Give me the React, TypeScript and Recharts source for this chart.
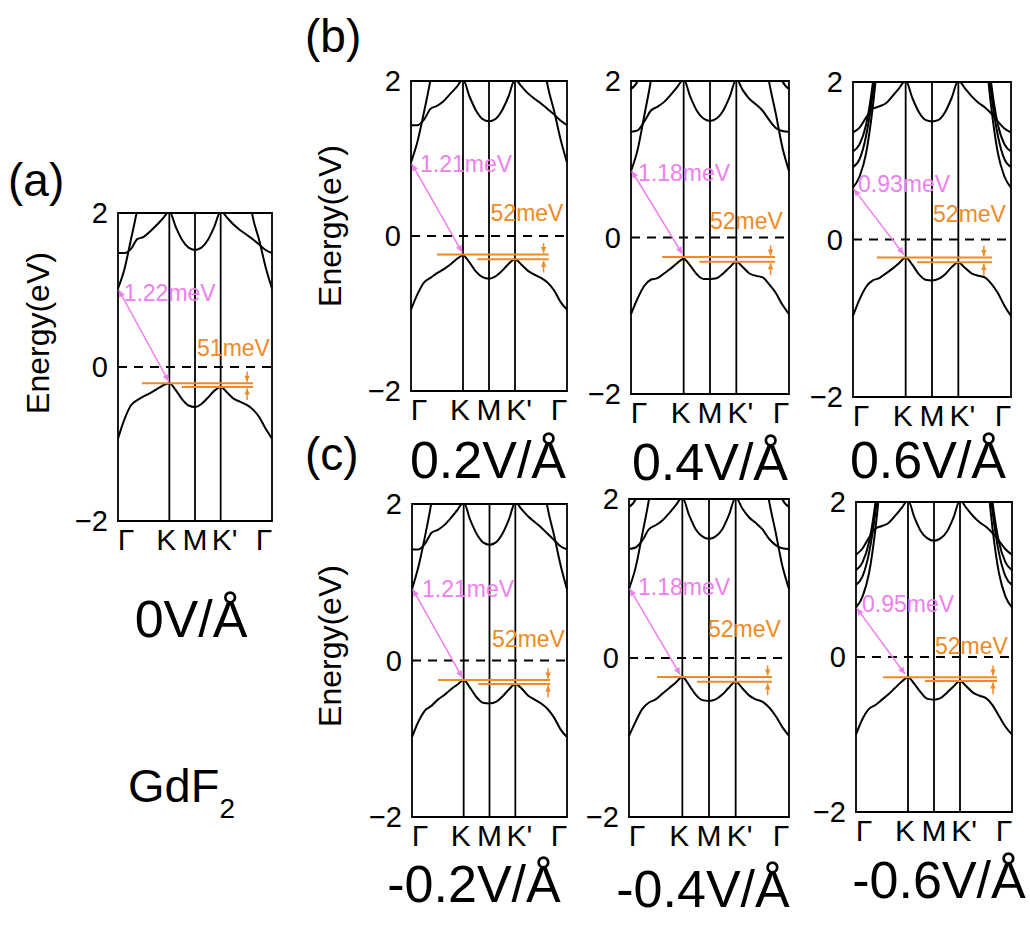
import React from 'react'
import { LineChart, Line, XAxis, YAxis, ReferenceLine, ReferenceArea, ReferenceDot } from 'recharts'

const FONT = '"Liberation Sans", Arial, sans-serif'
const PINK = '#EE80EE'
const ORANGE = '#F08A24'

// k-path Γ-K-M-K'-Γ, sampled every 0.25
const kPath = [0, 0.25, 0.5, 0.75, 1, 1.25, 1.5, 1.75, 2, 2.25, 2.5, 2.75, 3, 3.25, 3.5, 3.75, 4, 4.25, 4.5, 4.75, 5, 5.25, 5.5, 5.75, 6]
const kTicks = [0, 2, 3, 4, 6]
const kLabels = ['Γ', 'K', 'M', "K'", 'Γ']
const eTicks = [-2, 0, 2]

// steep bands only show near Γ, the middle of the path is empty
function edge(left: number[], right: number[]) {
  return [...left, ...new Array(kPath.length - left.length - right.length).fill(null), ...right]
}

// (a) 0 V/Å
const vbA = [-0.93, -0.68, -0.5, -0.43, -0.38, -0.34, -0.29, -0.24, -0.21, -0.3, -0.42, -0.5, -0.52, -0.48, -0.4, -0.31, -0.26, -0.33, -0.41, -0.45, -0.49, -0.55, -0.65, -0.8, -0.93]
const cKA = [1.48, 1.48, 1.53, 1.66, 1.69, 1.76, 1.84, 1.93, 2.02, 1.82, 1.65, 1.55, 1.52, 1.55, 1.65, 1.82, 2.02, 1.94, 1.85, 1.78, 1.72, 1.66, 1.59, 1.52, 1.48]
const cGA = edge([1.02, 1.27, 1.65, 2.05, 2.6], [2.5, 1.95, 1.65, 1.3, 1.02])

// (b) 0.2 V/Å
const vbB1 = [-0.95, -0.75, -0.6, -0.54, -0.48, -0.43, -0.37, -0.3, -0.25, -0.34, -0.46, -0.53, -0.55, -0.52, -0.45, -0.36, -0.3, -0.37, -0.45, -0.5, -0.54, -0.6, -0.7, -0.85, -0.95]
const cKB1 = [1.43, 1.43, 1.5, 1.64, 1.68, 1.74, 1.83, 1.92, 2.02, 1.8, 1.62, 1.51, 1.48, 1.51, 1.62, 1.8, 2.02, 1.93, 1.84, 1.77, 1.71, 1.64, 1.57, 1.49, 1.43]
const cGB1 = edge([0.95, 1.22, 1.6, 2.02, 2.6], [2.5, 1.95, 1.62, 1.25, 0.95])

// (b) 0.4 V/Å
const vbB2 = [-0.98, -0.78, -0.62, -0.54, -0.52, -0.46, -0.4, -0.33, -0.27, -0.36, -0.47, -0.53, -0.53, -0.52, -0.46, -0.38, -0.31, -0.38, -0.46, -0.49, -0.51, -0.6, -0.71, -0.86, -0.98]
const cKB2 = [1.35, 1.37, 1.48, 1.62, 1.67, 1.73, 1.82, 1.92, 2.02, 1.8, 1.62, 1.52, 1.49, 1.52, 1.62, 1.8, 2.02, 1.88, 1.77, 1.7, 1.62, 1.5, 1.4, 1.36, 1.35]
const cGB2 = edge([0.85, 1.12, 1.55, 2.0, 2.6], [2.5, 1.98, 1.58, 1.15, 0.85])
const cTB2 = edge([1.9, 2.0, 2.3], [2.3, 2.0, 1.9])

// (b) 0.6 V/Å
const vbB3 = [-0.97, -0.76, -0.6, -0.52, -0.49, -0.43, -0.37, -0.3, -0.23, -0.32, -0.44, -0.51, -0.52, -0.5, -0.44, -0.35, -0.29, -0.36, -0.43, -0.46, -0.48, -0.56, -0.68, -0.84, -0.97]
const cKB3 = [1.36, 1.42, 1.55, 1.66, 1.69, 1.73, 1.82, 1.92, 2.02, 1.8, 1.62, 1.52, 1.5, 1.52, 1.62, 1.8, 2.02, 1.92, 1.82, 1.74, 1.68, 1.6, 1.5, 1.41, 1.36]
const cS1B3 = edge([0.66, 0.8, 1.1, 1.68, 2.5], [2.5, 1.68, 1.1, 0.8, 0.66])
const cS2B3 = edge([0.92, 1.02, 1.32, 1.86, 2.7], [2.7, 1.86, 1.32, 1.02, 0.92])
const cS3B3 = edge([1.12, 1.21, 1.46, 1.98, 2.8], [2.8, 1.98, 1.46, 1.21, 1.12])

// (c) -0.2 V/Å
const vbC1 = [-0.98, -0.78, -0.64, -0.58, -0.5, -0.44, -0.37, -0.31, -0.25, -0.35, -0.47, -0.54, -0.55, -0.53, -0.46, -0.37, -0.3, -0.36, -0.45, -0.5, -0.55, -0.62, -0.73, -0.88, -0.98]
const cKC1 = [1.42, 1.42, 1.49, 1.63, 1.67, 1.73, 1.82, 1.92, 2.02, 1.8, 1.62, 1.51, 1.48, 1.51, 1.62, 1.8, 2.02, 1.93, 1.84, 1.77, 1.7, 1.62, 1.54, 1.46, 1.42]
const cGC1 = edge([0.91, 1.2, 1.58, 2.02, 2.6], [2.5, 1.95, 1.6, 1.22, 0.91])

// (c) -0.4 V/Å
const vbC2 = [-0.98, -0.8, -0.64, -0.56, -0.52, -0.45, -0.38, -0.31, -0.24, -0.34, -0.46, -0.53, -0.54, -0.52, -0.46, -0.37, -0.3, -0.38, -0.47, -0.52, -0.55, -0.62, -0.73, -0.87, -0.98]
const cKC2 = [1.37, 1.39, 1.48, 1.62, 1.67, 1.73, 1.82, 1.92, 2.02, 1.8, 1.62, 1.53, 1.5, 1.53, 1.62, 1.8, 2.02, 1.88, 1.77, 1.7, 1.62, 1.5, 1.42, 1.38, 1.37]
const cGC2 = edge([0.87, 1.14, 1.56, 2.0, 2.6], [2.5, 1.98, 1.58, 1.16, 0.87])
const cTC2 = edge([1.9, 2.0, 2.3], [2.3, 2.0, 1.9])

// (c) -0.6 V/Å
const vbC3 = [-1.0, -0.8, -0.67, -0.62, -0.55, -0.48, -0.4, -0.32, -0.26, -0.35, -0.46, -0.54, -0.55, -0.53, -0.46, -0.38, -0.31, -0.38, -0.46, -0.5, -0.53, -0.62, -0.76, -0.9, -1.0]
const cKC3 = [1.32, 1.4, 1.54, 1.66, 1.69, 1.73, 1.82, 1.92, 2.02, 1.8, 1.62, 1.53, 1.5, 1.53, 1.62, 1.8, 2.02, 1.92, 1.82, 1.74, 1.68, 1.6, 1.5, 1.39, 1.32]
const cS1C3 = edge([0.64, 0.78, 1.08, 1.66, 2.5], [2.5, 1.66, 1.08, 0.78, 0.64])
const cS2C3 = edge([0.93, 1.04, 1.34, 1.88, 2.7], [2.7, 1.88, 1.34, 1.04, 0.93])
const cS3C3 = edge([1.12, 1.22, 1.48, 2.0, 2.8], [2.8, 2.0, 1.48, 1.22, 1.12])

// gap annotations: pink Γ->K arrow, orange K/K' valley splitting
const gapText = ['1.22meV', '1.21meV', '1.18meV', '0.93meV', '1.21meV', '1.18meV', '0.95meV']
const gapFrom = [1.0, 0.93, 0.85, 0.64, 0.91, 0.87, 0.63]
const gapTo = [-0.19, -0.21, -0.21, -0.19, -0.22, -0.21, -0.22]
const splitText = ['51meV', '52meV', '52meV', '52meV', '52meV', '52meV', '52meV']
const topK = [-0.21, -0.24, -0.25, -0.23, -0.25, -0.24, -0.26]
const topK2 = [-0.26, -0.3, -0.31, -0.29, -0.3, -0.3, -0.31]

const panels = [
  { x: 118, y: 213, w: 154, h: 308, bands: [vbA, cKA, cGA], pinkAt: [0.22, 0.96], pinkEnd: 1.98, orangeAt: [3.08, 0.25], s1: 0.93, s2: 2.48, end: 5.26, ak: 5.03 },
  { x: 411, y: 81, w: 156, h: 310, bands: [vbB1, cKB1, cGB1], pinkAt: [0.35, 0.93], pinkEnd: 1.97, orangeAt: [3.06, 0.3], s1: 1.0, s2: 2.55, end: 5.3, ak: 5.1 },
  { x: 631, y: 81, w: 158, h: 313, bands: [vbB2, cKB2, cGB2, cTB2], pinkAt: [0.27, 0.83], pinkEnd: 1.95, orangeAt: [3.0, 0.21], s1: 1.18, s2: 2.6, end: 5.47, ak: 5.3 },
  { x: 853, y: 82, w: 158, h: 315, bands: [vbB3, cKB3, cS1B3, cS2B3, cS3B3], pinkAt: [0.19, 0.71], pinkEnd: 1.93, orangeAt: [3.04, 0.33], s1: 0.9, s2: 2.43, end: 5.28, ak: 4.97 },
  { x: 412, y: 504, w: 155, h: 313, bands: [vbC1, cKC1, cGC1], pinkAt: [0.39, 0.91], pinkEnd: 1.95, orangeAt: [3.1, 0.27], s1: 1.0, s2: 2.56, end: 5.35, ak: 5.27 },
  { x: 629, y: 499, w: 160, h: 318, bands: [vbC2, cKC2, cGC2, cTC2], pinkAt: [0.34, 0.89], pinkEnd: 1.92, orangeAt: [2.96, 0.36], s1: 1.05, s2: 2.55, end: 5.36, ak: 5.2 },
  { x: 856, y: 502, w: 156, h: 310, bands: [vbC3, cKC3, cS1C3, cS2C3, cS3C3], pinkAt: [0.23, 0.68], pinkEnd: 1.88, orangeAt: [3.04, 0.14], s1: 1.04, s2: 2.65, end: 5.42, ak: 5.27 },
]

function head(x: number, y: number, ang: number, size: number, color: string) {
  const bx = x - size * Math.cos(ang)
  const by = y - size * Math.sin(ang)
  const ox = size * 0.45 * Math.sin(ang)
  const oy = size * 0.45 * Math.cos(ang)
  return <polygon points={`${x},${y} ${bx + ox},${by - oy} ${bx - ox},${by + oy}`} fill={color} />
}

const arrowShape = (color: string, both: boolean, width: number, size: number) => (p: any) => {
  const { x1, y1, x2, y2 } = p
  const ang = Math.atan2(y2 - y1, x2 - x1)
  return (
    <g>
      <line x1={x1} y1={y1} x2={x2} y2={y2} stroke={color} strokeWidth={width} />
      {head(x2, y2, ang, size, color)}
      {both && head(x1, y1, ang + Math.PI, size, color)}
    </g>
  )
}

const textShape = (value: string, color: string) => (p: any) => (
  <text x={p.cx} y={p.cy} dy="0.35em" fill={color} fontSize={23} fontFamily={FONT}>{value}</text>
)

function KTick(props: any) {
  const { x, y, payload } = props
  const i = kTicks.indexOf(payload.value)
  const shift = [8, -3, 0, 4, -8][i]
  return (
    <text x={x + shift} y={y} dy="0.75em" textAnchor="middle" fontSize={30} fontFamily={FONT} fill="#000">
      {kLabels[i]}
    </text>
  )
}

function Panel({ p, i }: { p: any; i: number }) {
  const data = kPath.map((k, j) => {
    const row: any = { k }
    p.bands.forEach((b: (number | null)[], n: number) => { row['b' + n] = b[j] })
    return row
  })
  const e1 = topK[i]
  const e2 = topK2[i]
  return (
    <div style={{ position: 'absolute', left: p.x - 44, top: p.y - 18 }}>
      <LineChart width={p.w + 56} height={p.h + 64} data={data} margin={{ top: 18, right: 12, bottom: 0, left: 0 }}>
        <XAxis
          dataKey="k"
          type="number"
          domain={[0, 6]}
          ticks={kTicks}
          axisLine={false}
          tickLine={false}
          tickMargin={0}
          height={46}
          interval={0}
          tick={<KTick />}
        />
        <YAxis
          type="number"
          domain={[-2, 2]}
          ticks={eTicks}
          allowDataOverflow
          axisLine={false}
          tickLine={false}
          tickMargin={4}
          width={44}
          tick={{ fontSize: 29, fill: '#000', fontFamily: FONT }}
          tickFormatter={(v: number) => (v < 0 ? '−' + Math.abs(v) : String(v))}
        />
        {p.bands.map((_: any, n: number) => (
          <Line
            key={n}
            dataKey={'b' + n}
            type="monotone"
            stroke="#000"
            strokeWidth={2}
            dot={false}
            activeDot={false}
            connectNulls={false}
            isAnimationActive={false}
          />
        ))}
        <ReferenceLine x={2} stroke="#000" strokeWidth={1.8} />
        <ReferenceLine x={3} stroke="#000" strokeWidth={1.8} />
        <ReferenceLine x={4} stroke="#000" strokeWidth={1.8} />
        <ReferenceLine y={0} stroke="#000" strokeWidth={1.8} strokeDasharray="9 7" />
        <ReferenceArea x1={0} x2={6} y1={-2} y2={2} fill="none" fillOpacity={0} stroke="#000" strokeWidth={1.8} />
        <ReferenceLine segment={[{ x: p.s1, y: e1 }, { x: p.end, y: e1 }]} stroke={ORANGE} strokeWidth={2} />
        <ReferenceLine segment={[{ x: p.s2, y: e2 }, { x: p.end, y: e2 }]} stroke={ORANGE} strokeWidth={2} />
        <ReferenceLine segment={[{ x: p.ak, y: e1 + 0.15 }, { x: p.ak, y: e1 + 0.02 }]} shape={arrowShape(ORANGE, false, 1.5, 6)} />
        <ReferenceLine segment={[{ x: p.ak, y: e2 - 0.17 }, { x: p.ak, y: e2 - 0.02 }]} shape={arrowShape(ORANGE, false, 1.5, 6)} />
        <ReferenceLine segment={[{ x: 0.03, y: gapFrom[i] }, { x: p.pinkEnd, y: gapTo[i] }]} shape={arrowShape(PINK, true, 1.5, 7)} />
        <ReferenceDot x={p.pinkAt[0]} y={p.pinkAt[1]} shape={textShape(gapText[i], PINK)} />
        <ReferenceDot x={p.orangeAt[0]} y={p.orangeAt[1]} shape={textShape(splitText[i], ORANGE)} />
      </LineChart>
    </div>
  )
}

const fieldLabels = [
  { t: '0V/Å', x: 191, y: 637 },
  { t: '0.2V/Å', x: 488, y: 478 },
  { t: '0.4V/Å', x: 710, y: 480 },
  { t: '0.6V/Å', x: 928, y: 478 },
  { t: '-0.2V/Å', x: 474, y: 902 },
  { t: '-0.4V/Å', x: 703, y: 907 },
  { t: '-0.6V/Å', x: 939, y: 898 },
]

const energyLabels = [
  { x: 38, y: 333 },
  { x: 330, y: 226 },
  { x: 330, y: 646 },
]

export default function App() {
  return (
    <div style={{ position: 'absolute', left: 0, top: 0, width: 1030, height: 927, background: '#fff', overflow: 'hidden' }}>
      {panels.map((p, i) => <Panel key={i} p={p} i={i} />)}
      <svg width={1030} height={927} style={{ position: 'absolute', left: 0, top: 0, pointerEvents: 'none' }}>
        <g fontFamily={FONT} fill="#000">
          <text x={8} y={196} fontSize={46}>(a)</text>
          <text x={305} y={52} fontSize={46}>(b)</text>
          <text x={305} y={470} fontSize={46}>(c)</text>
          {fieldLabels.map((l) => (
            <text key={l.t} x={l.x} y={l.y} fontSize={52} textAnchor="middle">{l.t}</text>
          ))}
          <text x={128} y={802} fontSize={47}>
            GdF<tspan fontSize={28} dy={16}>2</tspan>
          </text>
          {energyLabels.map((l, i) => (
            <text key={i} x={l.x} y={l.y} fontSize={32} textAnchor="middle" dominantBaseline="central" transform={`rotate(-90 ${l.x} ${l.y})`}>
              Energy(eV)
            </text>
          ))}
        </g>
      </svg>
    </div>
  )
}
